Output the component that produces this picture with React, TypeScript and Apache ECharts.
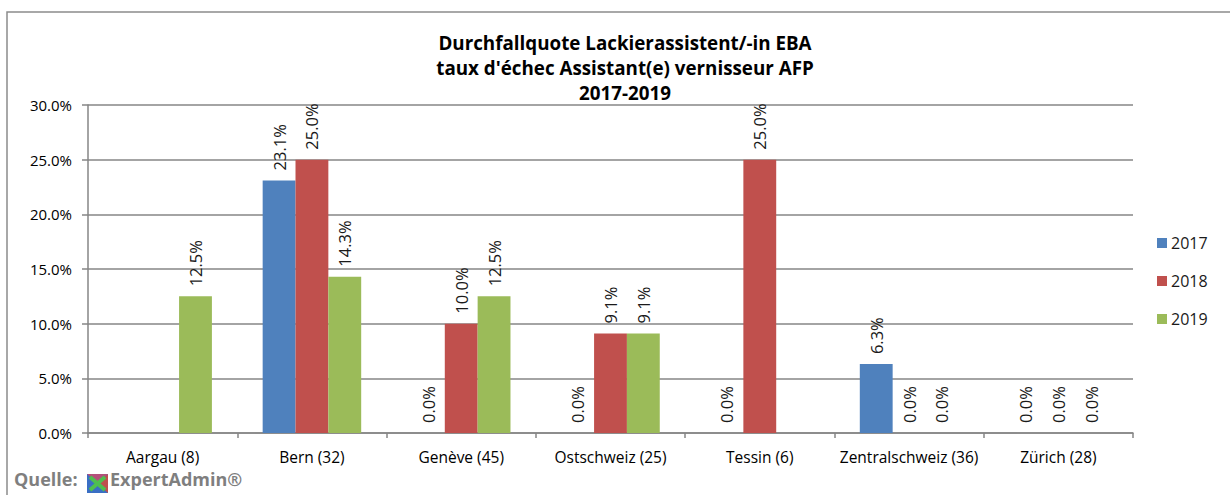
import React, { useEffect, useRef } from "react";
import * as echarts from "echarts";

const categories = [
  "Aargau (8)",
  "Bern (32)",
  "Genève (45)",
  "Ostschweiz (25)",
  "Tessin (6)",
  "Zentralschweiz (36)",
  "Zürich (28)",
];
const seriesNames = ["2017", "2018", "2019"];
const values2017: (number | null)[] = [null, 23.1, 0.0, 0.0, 0.0, 6.3, 0.0];
const values2018: (number | null)[] = [null, 25.0, 10.0, 9.1, 25.0, 0.0, 0.0];
const values2019: (number | null)[] = [12.5, 14.3, 12.5, 9.1, null, 0.0, 0.0];
const colors = ["#4F81BD", "#C0504D", "#9BBB59"];
const titleLines = [
  "Durchfallquote Lackierassistent/-in EBA",
  "taux d'échec Assistant(e) vernisseur AFP",
  "2017-2019",
];
const FONT = "'Open Sans', sans-serif";

export default function App() {
  const ref = useRef<HTMLDivElement>(null);
  useEffect(() => {
    if (!ref.current) return;
    const chart = echarts.init(ref.current, undefined, { renderer: "svg" });
    const allValues = [values2017, values2018, values2019];
    const series = allValues.map((vals, i) => ({
      name: seriesNames[i],
      type: "bar" as const,
      data: vals,
      barGap: "0%",
      barCategoryGap: "34%",
      itemStyle: { color: colors[i] },
      label: {
        show: true,
        position: "top" as const,
        rotate: 90,
        align: "left",
        verticalAlign: "middle",
        distance: 10,
        fontFamily: FONT,
        fontSize: 16.5,
        color: "#1a1a1a",
        formatter: (p: any) => (p.value == null ? "" : Number(p.value).toFixed(1) + "%"),
      },
    }));
    chart.setOption({
      animation: false,
      backgroundColor: "#ffffff",
      textStyle: { fontFamily: FONT },
      title: {
        text: titleLines.join("\n"),
        left: 620,
        textAlign: "center",
        top: 25,
        textStyle: {
          fontFamily: FONT,
          fontSize: 18.8,
          fontWeight: "bold",
          color: "#000",
          lineHeight: 25,
        },
      },
      legend: {
        orient: "vertical",
        left: 1152,
        top: 230,
        itemWidth: 10,
        itemHeight: 10,
        itemGap: 22,
        icon: "rect",
        textStyle: { fontFamily: FONT, fontSize: 16, color: "#1a1a1a", padding: [0, 0, 0, -1] },
        data: seriesNames,
      },
      grid: { left: 88, right: 97, top: 105, bottom: 62, containLabel: false },
      xAxis: {
        type: "category",
        data: categories,
        axisLine: { lineStyle: { color: "#868686", width: 1.5 } },
        axisTick: { show: true, length: 5, lineStyle: { color: "#868686", width: 1.5 } },
        axisLabel: { fontFamily: FONT, fontSize: 15.5, color: "#000", margin: 16, interval: 0 },
      },
      yAxis: {
        type: "value",
        min: 0,
        max: 30,
        interval: 5,
        axisLine: { show: true, lineStyle: { color: "#868686", width: 1.5 } },
        axisTick: { show: true, length: 6, lineStyle: { color: "#868686", width: 1.5 } },
        splitLine: { lineStyle: { color: "#868686", width: 1.5 } },
        axisLabel: {
          fontFamily: FONT,
          fontSize: 15,
          color: "#000",
          margin: 16,
          formatter: (v: number) => v.toFixed(1) + "%",
        },
      },
      graphic: [
        {
          type: "rect",
          shape: { x: 7, y: 12, width: 1300, height: 600 },
          style: { fill: "none", stroke: "#8c8c8c", lineWidth: 1.5 },
          silent: true,
          z: -1,
        },
        {
          type: "text",
          left: 14,
          top: 470,
          style: {
            text: "Quelle:",
            fontFamily: FONT,
            fontSize: 18,
            fontWeight: "bold",
            fill: "#7f7f7f",
          },
        },
        {
          type: "group",
          left: 87,
          top: 474,
          children: [
            { type: "rect", shape: { x: 0, y: 0, width: 21, height: 19 }, style: { fill: "#3a6fc4" } },
            { type: "polygon", shape: { points: [[21, 0], [21, 19], [10.5, 9.5]] }, style: { fill: "#c0504d" } },
            { type: "polygon", shape: { points: [[0, 0], [21, 0], [10.5, 9.5]] }, style: { fill: "#b4507a" } },
            { type: "line", shape: { x1: 3, y1: 3, x2: 18, y2: 16 }, style: { stroke: "#4fbf4f", lineWidth: 4 } },
            { type: "line", shape: { x1: 18, y1: 3, x2: 3, y2: 16 }, style: { stroke: "#4fbf4f", lineWidth: 4 } },
          ],
        },
        {
          type: "text",
          left: 110,
          top: 470,
          style: {
            text: "ExpertAdmin®",
            fontFamily: FONT,
            fontSize: 18,
            fontWeight: "bold",
            fill: "#7f7f7f",
          },
        },
      ],
      series,
    });
    return () => chart.dispose();
  }, []);
  return (
    <div
      ref={ref}
      style={{ position: "fixed", left: 0, top: 0, width: 1230, height: 495, background: "#fff" }}
    />
  );
}
